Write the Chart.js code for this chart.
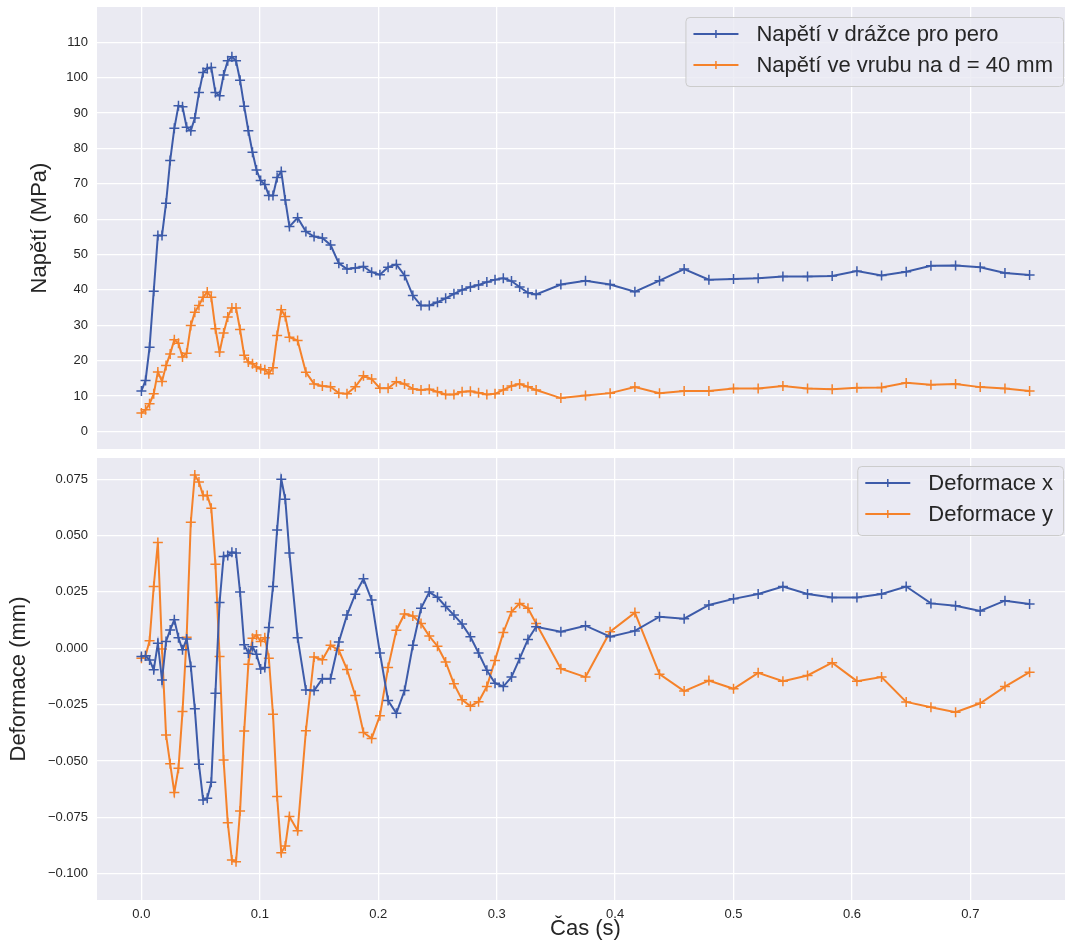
<!DOCTYPE html>
<html>
<head>
<meta charset="utf-8">
<script src="https://cdn.jsdelivr.net/npm/chart.js@4.4.1/dist/chart.umd.min.js"></script>
<style>
  html, body { margin: 0; padding: 0; background: #fff; overflow: hidden; }
  #fig { position: relative; width: 1065px; height: 942px; overflow: hidden; }
  canvas { position: absolute; left: 0; }
</style>
</head>
<body>
<div id="fig">
  <canvas id="top" width="1074" height="453" style="top:0px"></canvas>
  <canvas id="bottom" width="1074" height="489" style="top:453px"></canvas>
</div>
<script>
// time steps (s)
const time = [0, 0.0035, 0.0069, 0.0104, 0.0139, 0.0174, 0.0208, 0.0243, 0.0278, 0.0313, 0.0347, 0.0382, 0.0417, 0.0451, 0.0486, 0.0521, 0.0556, 0.059, 0.0625, 0.066, 0.0694, 0.0729, 0.0764, 0.0799, 0.0833, 0.0868, 0.0903, 0.0938, 0.0972, 0.1007, 0.1042, 0.1076, 0.1111, 0.1146, 0.1181, 0.1215, 0.125,
  0.1319, 0.1389, 0.1458, 0.1528, 0.1597, 0.1667, 0.1736, 0.1806, 0.1875, 0.1944, 0.2014, 0.2083, 0.2153, 0.2222, 0.2292, 0.2361, 0.2431, 0.25, 0.2569, 0.2639, 0.2708, 0.2778, 0.2847, 0.2917, 0.2986, 0.3056, 0.3125, 0.3194, 0.3264, 0.3333,
  0.3542, 0.375, 0.3958, 0.4167, 0.4375, 0.4583, 0.4792, 0.5, 0.5208, 0.5417, 0.5625, 0.5833, 0.6042, 0.625, 0.6458, 0.6667, 0.6875, 0.7083, 0.7292, 0.75];

// Napětí (MPa)
const napetiDrazka = [11.4, 14.4, 23.8, 39.6, 55.4, 55.4, 64.5, 76.6, 85.7, 92.1, 91.8, 86.0, 85.0, 88.6, 95.8, 101.5, 102.6, 102.9, 95.8, 94.9, 100.8, 104.8, 105.9, 104.8, 99.3, 91.9, 85.0, 78.9, 73.9, 70.9, 69.8, 66.7, 66.7, 71.8, 73.5, 65.4, 57.9,
  60.4, 56.5, 55.1, 54.7, 52.7, 47.5, 45.9, 46.2, 46.6, 45.0, 44.3, 46.4, 47.2, 44.1, 38.4, 35.6, 35.6, 36.5, 37.6, 38.9, 40.0, 40.8, 41.4, 42.2, 42.9, 43.3, 42.5, 40.8, 39.2, 38.7,
  41.5, 42.6, 41.5, 39.5, 42.6, 45.9, 42.9, 43.1, 43.3, 43.8, 43.8, 43.9, 45.3, 44.1, 45.1, 46.8, 46.9, 46.4, 44.8, 44.2];
const napetiVrub = [5.2, 6.1, 7.8, 10.6, 16.8, 14.1, 18.6, 21.9, 25.9, 24.9, 21.0, 22.1, 29.9, 33.7, 35.6, 37.9, 39.4, 37.9, 29.0, 22.4, 27.8, 32.3, 34.9, 34.9, 28.8, 21.5, 19.6, 19.1, 18.2, 17.7, 17.4, 16.3, 18.0, 27.1, 34.4, 32.5, 26.6,
  25.7, 16.7, 13.4, 12.8, 12.6, 10.8, 10.6, 12.6, 15.7, 14.8, 12.2, 12.2, 14.0, 13.4, 12.0, 11.7, 11.9, 11.2, 10.4, 10.4, 11.2, 11.3, 10.9, 10.4, 10.6, 11.7, 12.8, 13.4, 12.6, 11.7,
  9.4, 10.1, 10.8, 12.5, 10.8, 11.4, 11.4, 12.1, 12.1, 12.8, 12.1, 11.9, 12.3, 12.4, 13.7, 13.2, 13.4, 12.5, 12.1, 11.4];

// Deformace (mm)
const deformaceX = [-0.0037, -0.0033, -0.0052, -0.0096, 0.0022, -0.0141, 0.003, 0.0081, 0.0126, 0.0047, -0.0007, 0.0041, -0.0081, -0.0269, -0.0515, -0.0673, -0.0666, -0.0595, -0.02, 0.0203, 0.0407, 0.0411, 0.0426, 0.0422, 0.0249, 0.0015, -0.0022, 0.0007, -0.0027, -0.0092, -0.0086, 0.0092, 0.0274, 0.0525, 0.075, 0.0661, 0.0423,
  0.0046, -0.0185, -0.0188, -0.0135, -0.0135, 0.0028, 0.0147, 0.024, 0.0308, 0.0214, -0.0021, -0.0232, -0.0289, -0.0188, 0.0013, 0.0177, 0.0249, 0.0226, 0.0185, 0.0147, 0.0107, 0.0051, -0.0021, -0.0098, -0.0155, -0.017, -0.0128, -0.0046, 0.0039, 0.0095,
  0.0073, 0.01, 0.0051, 0.0077, 0.014, 0.0131, 0.0192, 0.0219, 0.0241, 0.0274, 0.0241, 0.0225, 0.0225, 0.0241, 0.0274, 0.0199, 0.0188, 0.0165, 0.0211, 0.0196];
const deformaceY = [-0.0044, -0.0033, 0.0033, 0.0274, 0.0469, -0.0003, -0.0385, -0.0513, -0.064, -0.0533, -0.0281, 0.0049, 0.0559, 0.0769, 0.0737, 0.0678, 0.0678, 0.0621, 0.0373, -0.0037, -0.0496, -0.0774, -0.0939, -0.0947, -0.0722, -0.0367, -0.0071, 0.0044, 0.0059, 0.003, 0.0047, -0.0044, -0.0293, -0.0658, -0.0907, -0.0877, -0.0747,
  -0.081, -0.0366, -0.0039, -0.0051, 0.0013, -0.0009, -0.0094, -0.021, -0.0374, -0.04, -0.0299, -0.0086, 0.008, 0.0152, 0.0143, 0.011, 0.0054, 0.0009, -0.0061, -0.0158, -0.0229, -0.0257, -0.0237, -0.017, -0.0054, 0.007, 0.0162, 0.0199, 0.0177, 0.011,
  -0.0091, -0.0128, 0.0073, 0.0158, -0.0115, -0.019, -0.0143, -0.018, -0.0109, -0.0146, -0.0121, -0.0064, -0.0146, -0.0128, -0.0238, -0.0262, -0.0284, -0.0244, -0.017, -0.0106];

const xTicks = [0, 0.1, 0.2, 0.3, 0.4, 0.5, 0.6, 0.7];
const napetiTicks = [0, 10, 20, 30, 40, 50, 60, 70, 80, 90, 100, 110];
const deformaceTicks = [-0.1, -0.075, -0.05, -0.025, 0, 0.025, 0.05, 0.075];

const BLUE = '#3d5ba9';
const ORANGE = '#f5822a';
const FONT = '"Liberation Sans", Arial, sans-serif';
const TEXT = '#262626';

Chart.defaults.font.family = FONT;
Chart.defaults.color = TEXT;

function pts(ys) {
  return time.map((t, i) => ({ x: t, y: ys[i] }));
}

function series(label, ys, color) {
  return {
    label: label,
    data: pts(ys),
    borderColor: color,
    backgroundColor: color,
    borderWidth: 2,
    tension: 0,
    pointStyle: 'cross',
    pointRadius: 5,
    pointBorderWidth: 1.5,
    pointBorderColor: color,
    pointHoverRadius: 5
  };
}

// grey plot background
const plotBg = {
  id: 'plotBg',
  beforeDraw(chart) {
    const a = chart.chartArea;
    const ctx = chart.ctx;
    ctx.save();
    ctx.fillStyle = '#eaeaf2';
    ctx.fillRect(a.left, a.top, a.right - a.left, a.bottom - a.top);
    ctx.restore();
  }
};

// matplotlib-like legend inside the axes
const insideLegend = {
  id: 'insideLegend',
  afterDatasetsDraw(chart, args, opts) {
    const ctx = chart.ctx;
    const sets = chart.data.datasets;
    ctx.save();
    ctx.font = '22px ' + FONT;
    let tw = 0;
    sets.forEach(d => { tw = Math.max(tw, ctx.measureText(d.label).width); });
    const rowH = 31;
    const w = 71 + tw + 10;
    const h = 17 + rowH * (sets.length - 1) + 21;
    const x = opts.right - w;
    const y = opts.top;
    ctx.beginPath();
    ctx.roundRect(x + 0.5, y + 0.5, w, h, 4);
    ctx.fillStyle = 'rgba(234,234,242,0.8)';
    ctx.fill();
    ctx.strokeStyle = '#cccccc';
    ctx.lineWidth = 1;
    ctx.stroke();
    sets.forEach((d, i) => {
      const cy = y + 17 + i * rowH;
      ctx.strokeStyle = d.borderColor;
      ctx.lineWidth = 2;
      ctx.beginPath();
      ctx.moveTo(x + 8, cy);
      ctx.lineTo(x + 53, cy);
      ctx.stroke();
      ctx.lineWidth = 1.5;
      ctx.beginPath();
      ctx.moveTo(x + 30.5, cy - 4);
      ctx.lineTo(x + 30.5, cy + 4);
      ctx.moveTo(x + 26.5, cy);
      ctx.lineTo(x + 34.5, cy);
      ctx.stroke();
      ctx.fillStyle = TEXT;
      ctx.textBaseline = 'middle';
      ctx.textAlign = 'left';
      ctx.fillText(d.label, x + 71, cy + 1);
    });
    ctx.restore();
  }
};

function setTicks(values) {
  return function (scale) {
    scale.ticks = values.map(v => ({ value: v }));
  };
}

// fixed axis size, no extra label padding around the plot
function fixSize(prop, size) {
  return function (s) {
    s[prop] = size;
    s.paddingTop = 0;
    s.paddingBottom = 0;
    s.paddingLeft = 0;
    s.paddingRight = 0;
  };
}

const gridStyle = { color: '#ffffff', lineWidth: 1.3, drawTicks: false };

new Chart(document.getElementById('top'), {
  type: 'line',
  data: {
    datasets: [
      series('Napětí v drážce pro pero', napetiDrazka, BLUE),
      series('Napětí ve vrubu na d = 40 mm', napetiVrub, ORANGE)
    ]
  },
  options: {
    responsive: false,
    animation: false,
    devicePixelRatio: 1,
    events: [],
    layout: { autoPadding: false, padding: { top: 7, left: 0, right: 0, bottom: 0 } },
    plugins: {
      legend: { display: false },
      tooltip: { enabled: false },
      insideLegend: { right: 1063, top: 17 }
    },
    scales: {
      x: {
        type: 'linear',
        min: -0.0375,
        max: 0.7875,
        grid: gridStyle,
        border: { display: false },
        ticks: { display: false },
        afterBuildTicks: setTicks(xTicks),
        afterFit: fixSize('height', 4)
      },
      y: {
        min: -5,
        max: 120,
        grid: gridStyle,
        border: { display: false },
        ticks: { font: { size: 13 }, padding: 9, color: TEXT },
        afterBuildTicks: setTicks(napetiTicks),
        afterFit: fixSize('width', 97),
        title: { display: true, text: 'Napětí (MPa)', font: { size: 22 }, color: TEXT, padding: { top: 27, bottom: 0 } }
      }
    }
  },
  plugins: [plotBg, insideLegend]
});

new Chart(document.getElementById('bottom'), {
  type: 'line',
  data: {
    datasets: [
      series('Deformace x', deformaceX, BLUE),
      series('Deformace y', deformaceY, ORANGE)
    ]
  },
  options: {
    responsive: false,
    animation: false,
    devicePixelRatio: 1,
    events: [],
    layout: { autoPadding: false, padding: { top: 5, left: 0, right: 0, bottom: 0 } },
    plugins: {
      legend: { display: false },
      tooltip: { enabled: false },
      insideLegend: { right: 1063, top: 13 }
    },
    scales: {
      x: {
        type: 'linear',
        min: -0.0375,
        max: 0.7875,
        grid: gridStyle,
        border: { display: false },
        ticks: { font: { size: 13 }, padding: 7, color: TEXT, callback: v => v.toFixed(1) },
        afterBuildTicks: setTicks(xTicks),
        afterFit: fixSize('height', 42),
        title: { display: true, text: 'Čas (s)', font: { size: 22 }, color: TEXT, padding: { top: 0, bottom: 0 } }
      },
      y: {
        min: -0.1117,
        max: 0.0844,
        grid: gridStyle,
        border: { display: false },
        ticks: { font: { size: 13 }, padding: 9, color: TEXT, callback: v => v.toFixed(3).replace('-', '\u2212') },
        afterBuildTicks: setTicks(deformaceTicks),
        afterFit: fixSize('width', 97),
        title: { display: true, text: 'Deformace (mm)', font: { size: 22 }, color: TEXT, padding: { top: 6, bottom: 0 } }
      }
    }
  },
  plugins: [plotBg, insideLegend]
});
</script>
</body>
</html>
